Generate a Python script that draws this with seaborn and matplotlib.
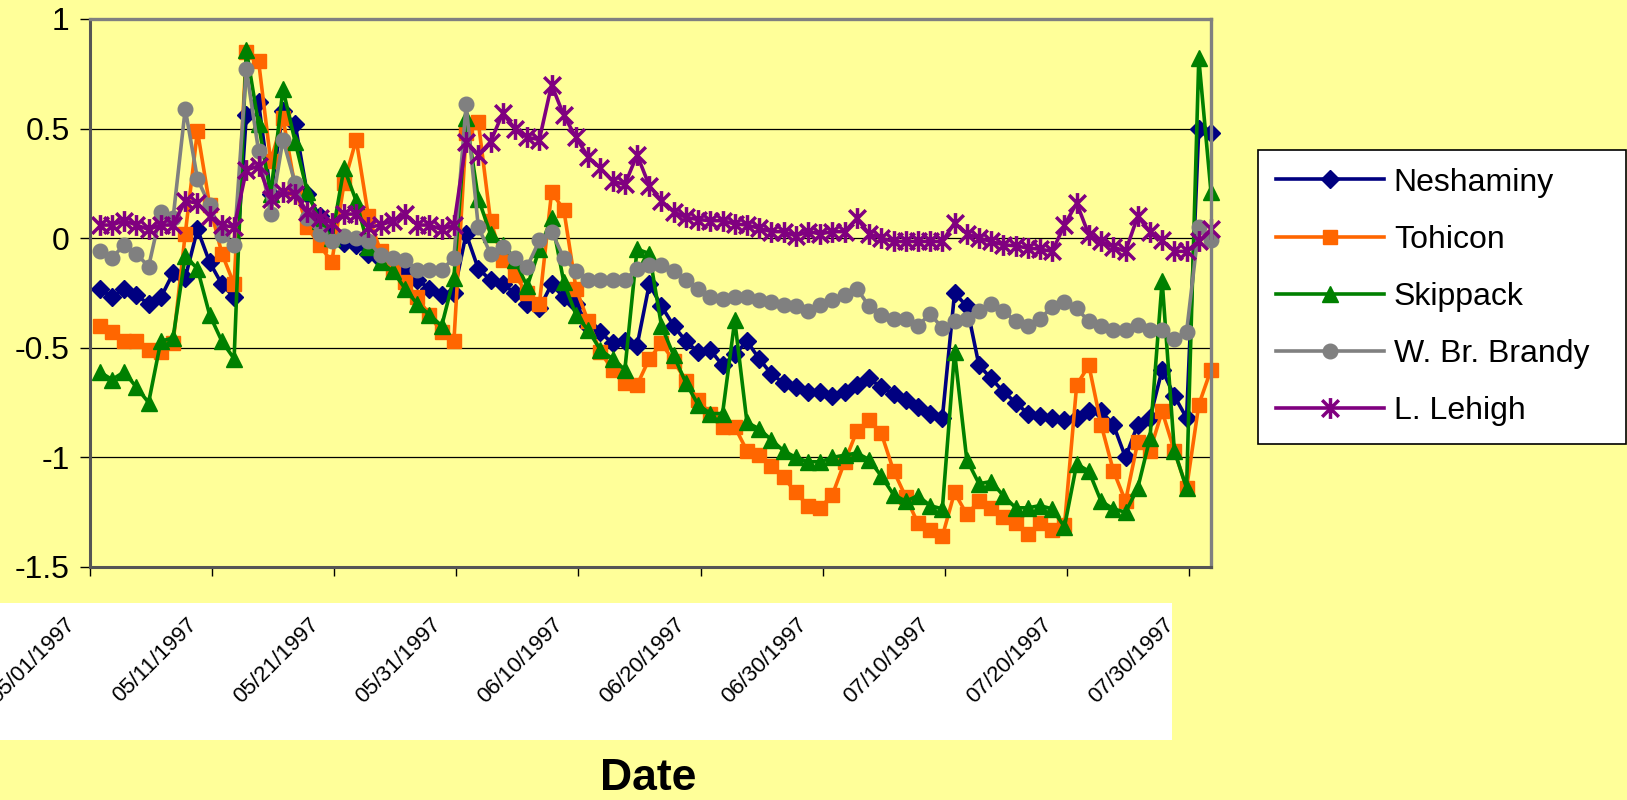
import numpy as np
import pandas as pd
import matplotlib
matplotlib.use("Agg")
import matplotlib.pyplot as plt
import matplotlib.transforms as mtransforms
from matplotlib.path import Path
from matplotlib.patches import Rectangle
import seaborn as sns

plt.rcParams['font.family'] = ['Liberation Sans', 'DejaVu Sans']
plt.rcParams['axes.unicode_minus'] = False

# daily samples, day number of each point on the axis
day = np.arange(92) + 0.8

neshaminy = [-0.23, -0.27, -0.23, -0.26, -0.30, -0.27, -0.16, -0.18, 0.04, -0.11,
             -0.21, -0.27, 0.56, 0.62, 0.20, 0.58, 0.52, 0.20, 0.10, 0.03,
             -0.02, -0.03, -0.07, -0.10, -0.13, -0.15, -0.19, -0.23, -0.26, -0.25,
             0.02, -0.14, -0.19, -0.21, -0.25, -0.30, -0.32, -0.21, -0.27, -0.30,
             -0.40, -0.43, -0.48, -0.47, -0.49, -0.21, -0.31, -0.40, -0.47, -0.52,
             -0.51, -0.58, -0.53, -0.47, -0.55, -0.62, -0.66, -0.68, -0.70, -0.70,
             -0.72, -0.70, -0.67, -0.64, -0.68, -0.71, -0.74, -0.77, -0.80, -0.82,
             -0.25, -0.31, -0.58, -0.64, -0.70, -0.75, -0.80, -0.81, -0.82, -0.83,
             -0.82, -0.79, -0.79, -0.85, -1.00, -0.85, -0.82, -0.60, -0.72, -0.82,
             0.50, 0.48]
tohicon = [-0.40, -0.43, -0.47, -0.47, -0.51, -0.52, -0.48, 0.02, 0.49, 0.15,
           -0.07, -0.21, 0.85, 0.81, 0.35, 0.55, 0.23, 0.05, -0.03, -0.11,
           0.25, 0.45, 0.10, -0.06, -0.15, -0.20, -0.27, -0.35, -0.43, -0.47,
           0.48, 0.53, 0.08, -0.10, -0.17, -0.25, -0.30, 0.21, 0.13, -0.23,
           -0.38, -0.52, -0.60, -0.66, -0.67, -0.55, -0.48, -0.56, -0.65, -0.74,
           -0.80, -0.86, -0.86, -0.97, -0.99, -1.04, -1.09, -1.16, -1.22, -1.23,
           -1.17, -1.02, -0.88, -0.83, -0.89, -1.06, -1.18, -1.30, -1.33, -1.36,
           -1.16, -1.26, -1.20, -1.23, -1.27, -1.30, -1.35, -1.30, -1.33, -1.31,
           -0.67, -0.58, -0.85, -1.06, -1.20, -0.93, -0.97, -0.79, -0.97, -1.14,
           -0.76, -0.60]
skippack = [-0.61, -0.645, -0.61, -0.68, -0.75, -0.47, -0.455, -0.08, -0.14, -0.35,
            -0.47, -0.55, 0.86, 0.52, 0.20, 0.68, 0.44, 0.21, 0.08, 0.00,
            0.32, 0.17, -0.04, -0.11, -0.15, -0.23, -0.30, -0.35, -0.40, -0.18,
            0.55, 0.18, 0.02, -0.03, -0.10, -0.22, -0.05, 0.09, -0.20, -0.35,
            -0.42, -0.51, -0.55, -0.60, -0.05, -0.07, -0.40, -0.535, -0.66, -0.76,
            -0.80, -0.80, -0.375, -0.84, -0.87, -0.92, -0.97, -1.00, -1.02, -1.02,
            -1.00, -0.99, -0.98, -1.01, -1.085, -1.17, -1.20, -1.175, -1.22, -1.235,
            -0.52, -1.01, -1.12, -1.11, -1.175, -1.23, -1.23, -1.22, -1.235, -1.317,
            -1.03, -1.063, -1.20, -1.235, -1.25, -1.14, -0.913, -0.195, -0.97, -1.14,
            0.82, 0.21]
brandy = [-0.06, -0.09, -0.03, -0.07, -0.13, 0.12, 0.09, 0.59, 0.27, 0.15,
          0.015, -0.03, 0.77, 0.40, 0.11, 0.45, 0.25, 0.09, 0.02, -0.015,
          0.008, 0.00, -0.015, -0.077, -0.09, -0.10, -0.145, -0.145, -0.145, -0.09,
          0.61, 0.05, -0.07, -0.04, -0.09, -0.13, -0.01, 0.03, -0.09, -0.15,
          -0.19, -0.19, -0.19, -0.19, -0.14, -0.12, -0.12, -0.15, -0.19, -0.23,
          -0.27, -0.276, -0.27, -0.27, -0.28, -0.29, -0.306, -0.31, -0.33, -0.306,
          -0.28, -0.26, -0.23, -0.31, -0.35, -0.37, -0.37, -0.40, -0.345, -0.41,
          -0.38, -0.37, -0.33, -0.30, -0.33, -0.38, -0.40, -0.367, -0.314, -0.29,
          -0.32, -0.38, -0.40, -0.42, -0.42, -0.397, -0.42, -0.42, -0.46, -0.427,
          0.05, -0.007]
lehigh = [0.06, 0.06, 0.08, 0.06, 0.04, 0.06, 0.06, 0.17, 0.16, 0.10,
          0.06, 0.05, 0.31, 0.33, 0.18, 0.21, 0.20, 0.12, 0.09, 0.07,
          0.11, 0.11, 0.05, 0.06, 0.08, 0.11, 0.06, 0.06, 0.04, 0.06,
          0.44, 0.38, 0.44, 0.57, 0.50, 0.46, 0.45, 0.70, 0.56, 0.46,
          0.37, 0.32, 0.26, 0.245, 0.38, 0.24, 0.17, 0.12, 0.095, 0.085,
          0.08, 0.08, 0.065, 0.06, 0.045, 0.03, 0.03, 0.01, 0.03, 0.02,
          0.03, 0.03, 0.09, 0.02, 0.00, -0.015, -0.015, -0.015, -0.015, -0.015,
          0.07, 0.02, 0.00, -0.015, -0.03, -0.035, -0.045, -0.05, -0.06, 0.06,
          0.16, 0.015, -0.015, -0.04, -0.06, 0.10, 0.03, -0.01, -0.06, -0.06,
          -0.015, 0.04]

sites = ['Neshaminy', 'Tohicon', 'Skippack', 'W. Br. Brandy', 'L. Lehigh']
series = [neshaminy, tohicon, skippack, brandy, lehigh]
colors = ['#000080', '#FF6600', '#008000', '#808080', '#800080']

tick_days = [0, 10, 20, 30, 40, 50, 60, 70, 80, 90]
tick_labels = ['05/01/1997', '05/11/1997', '05/21/1997', '05/31/1997', '06/10/1997',
               '06/20/1997', '06/30/1997', '07/10/1997', '07/20/1997', '07/30/1997']
y_ticks = [-1.5, -1, -0.5, 0, 0.5, 1]
y_labels = ['-1.5', '-1', '-0.5', '0', '0.5', '1']

# excel style star: vertical bar plus an X
star = Path([(0, -1), (0, 1), (-0.8, -0.8), (0.8, 0.8), (-0.8, 0.8), (0.8, -0.8)],
            [Path.MOVETO, Path.LINETO] * 3)
markers = ['D', 's', '^', 'o', star]
msizes = [9, 10.5, 12, 10.5, 15]
medges = [1, 1, 1, 1, 2.5]

bg = '#FFFF99'
fig = plt.figure(figsize=(16.27, 8.0), dpi=100, facecolor=bg)
ax = fig.add_axes([90 / 1627, 1 - 567 / 800, 1121 / 1627, 548 / 800])
ax.set_facecolor(bg)

for name, vals, c, m, ms, mw in zip(sites, series, colors, markers, msizes, medges):
    sns.lineplot(x=day, y=vals, ax=ax, color=c, marker=m, markersize=ms,
                 markeredgecolor=c, markeredgewidth=mw, linewidth=2.6,
                 label=name, estimator=None, clip_on=False)

ax.set_xlim(0, 91.8)
ax.set_ylim(-1.5, 1)
ax.set_yticks(y_ticks)
ax.set_yticklabels(y_labels)
ax.set_xticks(tick_days)
ax.set_xticklabels([])
ax.set_xlabel('')
ax.set_ylabel('')
ax.tick_params(axis='y', length=7.5, width=1, pad=7, labelsize=23, colors='black')
ax.tick_params(axis='x', length=6.5, width=1)
ax.yaxis.grid(True, color='black', linewidth=0.9)
ax.xaxis.grid(False)
ax.set_axisbelow(True)
for side in ['top', 'right']:
    ax.spines[side].set_color('#808080')
    ax.spines[side].set_linewidth(2.4)
for side in ['left', 'bottom']:
    ax.spines[side].set_color('#555555')
    ax.spines[side].set_linewidth(2.2)

# white band behind the date labels
fig.patches.append(Rectangle((0, 1 - 740 / 800), 1172 / 1627, 137 / 800,
                             transform=fig.transFigure, facecolor='white',
                             edgecolor='none', zorder=-1))

offset = mtransforms.ScaledTranslation(-26 / 100, -47 / 100, fig.dpi_scale_trans)
trans = mtransforms.blended_transform_factory(ax.transData, ax.transAxes) + offset
for t, lab in zip(tick_days, tick_labels):
    ax.text(t, 0, lab, transform=trans, rotation=45, rotation_mode='anchor',
            ha='right', va='top', fontsize=16, color='black', clip_on=False)

fig.text(648 / 1627, 1 - 779 / 800, 'Date', ha='center', va='center',
         fontsize=32, fontweight='bold')

leg = ax.legend(loc='upper left',
                bbox_to_anchor=(1258 / 1627, 1 - 433 / 800, 368 / 1627, 283 / 800),
                bbox_transform=fig.transFigure, mode='expand', frameon=True,
                fancybox=False, edgecolor='black', facecolor='white', framealpha=1,
                fontsize=23, handlelength=3.4, handletextpad=0.3, labelspacing=0.85,
                borderpad=0.55, borderaxespad=0)
leg.get_frame().set_linewidth(1.2)

fig.savefig('out.png', dpi=100, facecolor=bg)
